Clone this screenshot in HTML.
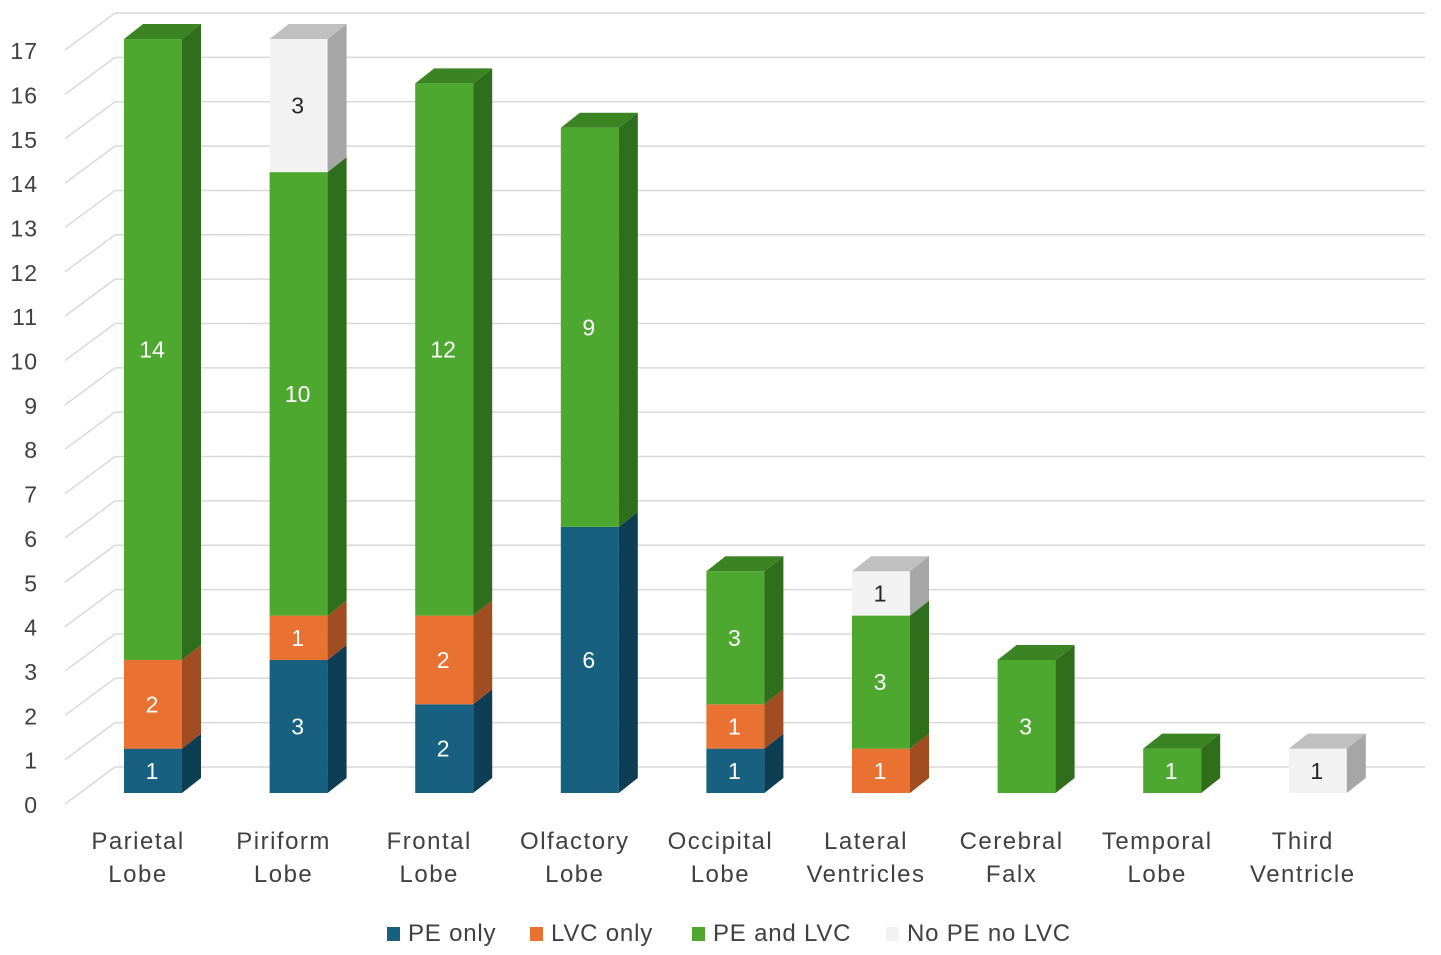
<!DOCTYPE html>
<html><head><meta charset="utf-8"><style>
body{margin:0;background:#fff;}
svg{display:block;font-family:"Liberation Sans",sans-serif;}
</style></head><body>
<svg id="chart" width="1441" height="955" viewBox="0 0 1441 955" xmlns="http://www.w3.org/2000/svg">
<g id="grid"></g>
<g id="yaxis"></g>
<g id="bars"></g>
<g id="xaxis"></g>
<g id="legend"></g>
</svg>
<script>
const categories = [["Parietal","Lobe"],["Piriform","Lobe"],["Frontal","Lobe"],["Olfactory","Lobe"],["Occipital","Lobe"],["Lateral","Ventricles"],["Cerebral","Falx"],["Temporal","Lobe"],["Third","Ventricle"]];
const peOnly = [1,3,2,6,1,0,0,0,0];
const lvcOnly = [2,1,2,0,1,1,0,0,0];
const peAndLvc = [14,10,12,9,3,3,3,1,0];
const noPeNoLvc = [0,3,0,0,0,1,0,0,1];
const seriesNames = ["PE only","LVC only","PE and LVC","No PE no LVC"];
const yTicks = [0,1,2,3,4,5,6,7,8,9,10,11,12,13,14,15,16,17];

const NS = "http://www.w3.org/2000/svg";
const series = [peOnly, lvcOnly, peAndLvc, noPeNoLvc];
const colors = [
  {front:"#17607f", side:"#0e3e54", top:"#134f6a", text:"#ffffff"},
  {front:"#e97132", side:"#a04d22", top:"#c45e28", text:"#ffffff"},
  {front:"#4ea72e", side:"#2f6f1c", top:"#3b8423", text:"#ffffff"},
  {front:"#f2f2f2", side:"#a6a6a6", top:"#c0c0c0", text:"#262626"}
];
const unit = 44.35, baseFront = 793, dx = 19, dy = 15, barW = 58;
const yF = v => baseFront - v*unit;
const yB = v => 767 - v*unit;
const xBar = i => 124 + i*145.6;

function el(tag, attrs, parent){
  const e = document.createElementNS(NS, tag);
  for (const k in attrs) e.setAttribute(k, attrs[k]);
  parent.appendChild(e);
  return e;
}
const grid = document.getElementById('grid');
const yaxis = document.getElementById('yaxis');
yTicks.forEach(t => {
  const y = yB(t);
  const l = el('line',{x1:115,y1:y,x2:1425,y2:y,stroke:'#d9d9d9','stroke-width':1.5},grid);
  
  
  const d = el('line',{x1:65,y1:y+37,x2:115,y2:y,stroke:'#d9d9d9','stroke-width':1.5},grid);
  
  
  const tx = el('text',{x:38,y:y+46,'text-anchor':'end','font-size':23,'letter-spacing':1,fill:'#404040'},yaxis);
  
  
  tx.textContent = t;
});
const bars = document.getElementById('bars');
const xaxis = document.getElementById('xaxis');
categories.forEach((c,i) => {
  const x = xBar(i);
  let cum = 0;
  let lastTop = -1;
  series.forEach((s,si) => { if (s[i] > 0) lastTop = si; });
  series.forEach((s,si) => {
    const v = s[i];
    if (!v) return;
    const y0 = yF(cum), y1 = yF(cum+v);
    const g = el('g',{},bars);
    
    
    el('rect',{x:x,y:y1,width:barW,height:y0-y1,fill:colors[si].front},g);
    el('polygon',{points:`${x+barW},${y0} ${x+barW+dx},${y0-dy} ${x+barW+dx},${y1-dy} ${x+barW},${y1}`,fill:colors[si].side},g);
    if (si === lastTop) {
      el('polygon',{points:`${x},${y1} ${x+dx},${y1-dy} ${x+barW+dx},${y1-dy} ${x+barW},${y1}`,fill:colors[si].top},g);
    }
    const t = el('text',{x:x+barW/2-1,y:(y0+y1)/2+8,'text-anchor':'middle','font-size':23,fill:colors[si].text},g);
    
    
    t.textContent = v;
    cum += v;
  });
  const cx = x + 14;
  c.forEach((line,li) => {
    const t = el('text',{x:cx,y:849+li*33,'text-anchor':'middle','font-size':24,'letter-spacing':1.5,fill:'#404040'},xaxis);
    
    
    t.textContent = line;
  });
});
const legend = document.getElementById('legend');
const lx = [387,530,692,886];
seriesNames.forEach((n,i) => {
  const g = el('g',{},legend);
  
  
  el('rect',{x:lx[i],y:927,width:13,height:14,fill:colors[i].front},g);
  const t = el('text',{x:lx[i]+21,y:941,'font-size':24,'letter-spacing':0.8,fill:'#404040'},g);
  t.textContent = n;
});
</script>
</body></html>
